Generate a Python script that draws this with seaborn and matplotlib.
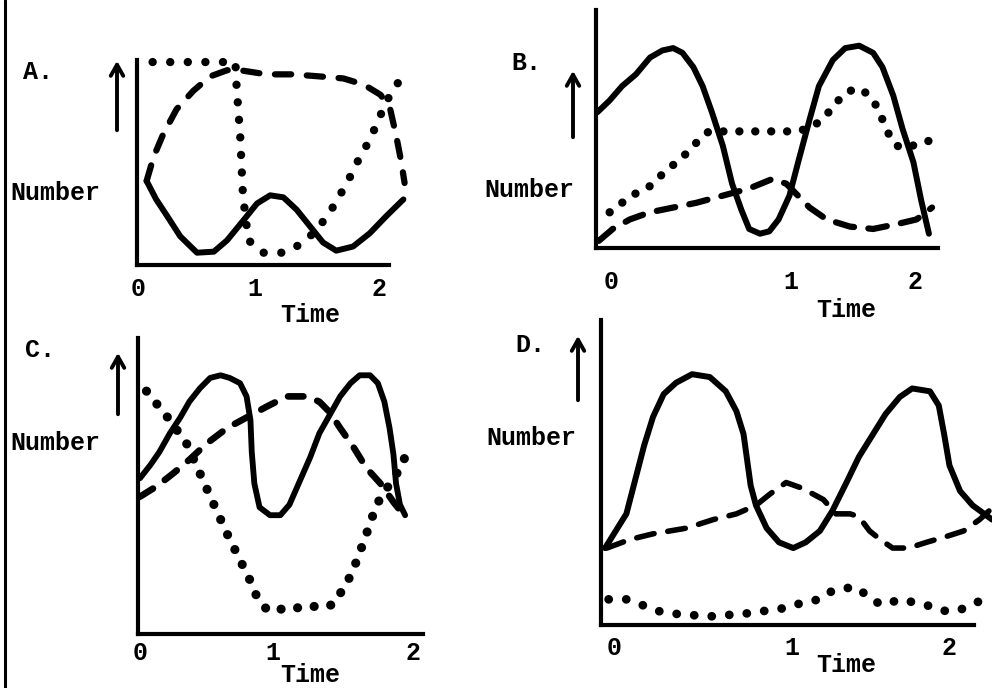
import matplotlib
matplotlib.use("Agg")
import matplotlib.pyplot as plt
import pandas as pd
import seaborn as sns
from matplotlib.lines import Line2D

# ---------------- data ----------------
tick_labels = ["0", "1", "2"]

# Panel A
a_solid_t = [0.08, 0.16, 0.25, 0.36, 0.50, 0.64, 0.75, 0.89, 1.00, 1.11, 1.22, 1.33, 1.44, 1.55, 1.66, 1.80, 1.94, 2.08, 2.22]
a_solid_y = [0.41, 0.32, 0.24, 0.14, 0.06, 0.065, 0.12, 0.22, 0.30, 0.34, 0.33, 0.27, 0.19, 0.11, 0.07, 0.09, 0.155, 0.24, 0.32]
a_dash_t = [0.08, 0.14, 0.22, 0.33, 0.47, 0.61, 0.75, 0.86, 1.08, 1.30, 1.52, 1.72, 1.89, 2.03, 2.11, 2.16, 2.20, 2.23]
a_dash_y = [0.41, 0.53, 0.64, 0.76, 0.85, 0.92, 0.95, 0.95, 0.93, 0.93, 0.92, 0.91, 0.88, 0.83, 0.76, 0.63, 0.51, 0.40]
a_dot_t = [0.13, 0.82, 0.83, 0.86, 0.88, 0.90, 0.93, 1.05, 1.22, 1.36, 1.50, 1.63, 1.75, 1.86, 1.94, 2.08, 2.23]
a_dot_y = [0.99, 0.99, 0.87, 0.63, 0.37, 0.25, 0.12, 0.06, 0.06, 0.10, 0.17, 0.28, 0.40, 0.53, 0.61, 0.80, 0.94]

# Panel B
b_solid_t = [-0.05, 0.03, 0.11, 0.20, 0.29, 0.37, 0.44, 0.50, 0.57, 0.63, 0.69, 0.76, 0.82, 0.88, 0.93, 1.00, 1.06,
             1.12, 1.19, 1.25, 1.32, 1.38, 1.47, 1.55, 1.64, 1.73, 1.79, 1.86, 1.92, 1.99, 2.04, 2.09]
b_solid_y = [0.57, 0.62, 0.68, 0.73, 0.80, 0.83, 0.84, 0.82, 0.76, 0.68, 0.57, 0.43, 0.27, 0.16, 0.08, 0.06, 0.07,
             0.12, 0.22, 0.37, 0.54, 0.68, 0.79, 0.84, 0.85, 0.82, 0.76, 0.64, 0.50, 0.36, 0.20, 0.06]
b_dot_t = [0.03, 0.11, 0.20, 0.29, 0.37, 0.46, 0.53, 0.60, 0.67, 0.80, 0.93, 1.06, 1.19, 1.32, 1.40, 1.47, 1.53,
           1.61, 1.67, 1.74, 1.79, 1.83, 1.88, 1.94, 2.03, 2.15]
b_dot_y = [0.15, 0.19, 0.23, 0.26, 0.31, 0.36, 0.40, 0.45, 0.49, 0.49, 0.49, 0.49, 0.49, 0.50, 0.54, 0.59, 0.64,
           0.67, 0.66, 0.61, 0.54, 0.48, 0.43, 0.42, 0.44, 0.46]
b_dash_t = [-0.04, 0.05, 0.16, 0.29, 0.44, 0.59, 0.76, 0.93, 1.08, 1.17, 1.23, 1.32, 1.43, 1.58, 1.73, 1.88, 2.01, 2.11]
b_dash_y = [0.03, 0.08, 0.12, 0.15, 0.17, 0.19, 0.22, 0.25, 0.29, 0.27, 0.23, 0.17, 0.12, 0.09, 0.08, 0.10, 0.12, 0.17]

# Panel C
c_solid_t = [0.00, 0.08, 0.15, 0.23, 0.31, 0.38, 0.46, 0.54, 0.62, 0.69, 0.77, 0.82, 0.85, 0.86, 0.88, 0.92, 1.00,
             1.08, 1.15, 1.23, 1.31, 1.38, 1.46, 1.54, 1.62, 1.69, 1.77, 1.83, 1.88, 1.92, 1.95, 1.97, 2.00, 2.04]
c_solid_y = [0.59, 0.64, 0.69, 0.76, 0.82, 0.88, 0.93, 0.97, 0.98, 0.97, 0.95, 0.90, 0.81, 0.69, 0.57, 0.48, 0.45,
             0.45, 0.49, 0.58, 0.67, 0.76, 0.83, 0.90, 0.95, 0.98, 0.98, 0.95, 0.88, 0.78, 0.68, 0.57, 0.49, 0.45]
c_dash_t = [0.00, 0.13, 0.26, 0.38, 0.51, 0.67, 0.82, 0.97, 1.13, 1.28, 1.38, 1.46, 1.54, 1.64, 1.74, 1.85, 1.95, 2.03]
c_dash_y = [0.52, 0.56, 0.61, 0.66, 0.72, 0.78, 0.82, 0.86, 0.90, 0.90, 0.88, 0.84, 0.78, 0.71, 0.63, 0.57, 0.50, 0.45]
c_dot_t = [0.05, 0.23, 0.36, 0.46, 0.56, 0.67, 0.77, 0.85, 0.90, 0.98, 1.23, 1.48, 1.59, 1.67, 1.75, 1.82, 1.91, 2.02, 2.06]
c_dot_y = [0.92, 0.81, 0.72, 0.61, 0.50, 0.38, 0.28, 0.20, 0.14, 0.09, 0.10, 0.11, 0.19, 0.28, 0.39, 0.49, 0.56, 0.64, 0.71]

# Panel D
d_solid_t = [0.00, 0.06, 0.12, 0.17, 0.22, 0.27, 0.33, 0.40, 0.49, 0.59, 0.68, 0.74, 0.78, 0.80, 0.82, 0.85, 0.91,
             0.98, 1.06, 1.13, 1.21, 1.28, 1.36, 1.43, 1.51, 1.58, 1.66, 1.73, 1.83, 1.88, 1.91, 1.94, 2.00, 2.07, 2.18]
d_solid_y = [0.27, 0.33, 0.39, 0.51, 0.63, 0.73, 0.81, 0.85, 0.88, 0.87, 0.82, 0.75, 0.67, 0.58, 0.49, 0.42, 0.34,
             0.29, 0.27, 0.29, 0.33, 0.40, 0.50, 0.59, 0.67, 0.74, 0.80, 0.83, 0.82, 0.77, 0.67, 0.56, 0.47, 0.42, 0.37]
d_dash_t = [0.01, 0.14, 0.27, 0.46, 0.61, 0.74, 0.85, 0.93, 1.02, 1.11, 1.23, 1.30, 1.38, 1.43, 1.49, 1.55, 1.62,
            1.71, 1.81, 1.92, 2.02, 2.11, 2.18]
d_dash_y = [0.27, 0.30, 0.32, 0.34, 0.37, 0.39, 0.42, 0.46, 0.50, 0.48, 0.44, 0.39, 0.39, 0.38, 0.33, 0.30, 0.27,
            0.27, 0.29, 0.31, 0.33, 0.37, 0.41]
d_dot_t = [0.02, 0.12, 0.21, 0.29, 0.38, 0.59, 0.79, 1.02, 1.12, 1.21, 1.28, 1.36, 1.43, 1.49, 1.57, 1.66, 1.81, 1.90, 1.99, 2.09, 2.18]
d_dot_y = [0.09, 0.09, 0.07, 0.05, 0.04, 0.03, 0.04, 0.06, 0.08, 0.09, 0.12, 0.13, 0.13, 0.09, 0.07, 0.09, 0.07, 0.05, 0.05, 0.08, 0.09]

# ---------------- style ----------------
sns.set_theme(style="white")
plt.rcParams["font.family"] = ["Liberation Mono", "DejaVu Sans Mono"]
plt.rcParams["font.weight"] = "bold"

W, H = 992, 688
fig = plt.figure(figsize=(W / 100, H / 100), dpi=100)
fig.patch.set_facecolor("white")
FS = 18


def add_ax(left, bottom_px, xlim, ylim, px_per_t, px_per_y):
    w = (xlim[1] - xlim[0]) * px_per_t
    h = (ylim[1] - ylim[0]) * px_per_y
    ax = fig.add_axes([left / W, (H - bottom_px) / H, w / W, h / H])
    ax.set_xlim(*xlim)
    ax.set_ylim(*ylim)
    ax.set_facecolor("none")
    return ax


def draw(ax, t, y, kind, lw, pattern=None):
    df = pd.DataFrame({"t": t, "y": y})
    kw = dict(color="black", linewidth=lw, clip_on=False, sort=False,
              estimator=None, ax=ax, legend=False)
    if kind == "solid":
        sns.lineplot(data=df, x="t", y="y", solid_capstyle="round",
                     solid_joinstyle="round", **kw)
    else:
        sns.lineplot(data=df, x="t", y="y", linestyle=(0, pattern),
                     dash_capstyle="round", dash_joinstyle="round", **kw)


def style_ax(ax, xbound, ticks, pad):
    for s in ["top", "right"]:
        ax.spines[s].set_visible(False)
    for s in ["left", "bottom"]:
        ax.spines[s].set_linewidth(3)
        ax.spines[s].set_color("black")
    ax.spines["bottom"].set_bounds(*xbound)
    ax.set_yticks([])
    ax.set_xticks(ticks)
    ax.set_xticklabels(tick_labels, fontsize=FS, fontweight="bold")
    ax.tick_params(axis="x", length=0, pad=pad, colors="black")
    ax.set_xlabel("")
    ax.set_ylabel("")


def fig_text(x, y, s):
    fig.text(x / W, 1 - y / H, s, ha="center", va="center", fontsize=FS,
             fontweight="bold", color="black")


def arrow(x, y0, y1):
    fig.add_artist(matplotlib.patches.FancyArrowPatch(
        (x / W, 1 - y0 / H), (x / W, 1 - y1 / H), transform=fig.transFigure,
        arrowstyle="->,head_length=8,head_width=4.5", lw=2.8, color="black",
        mutation_scale=1))


# ---------- Panel A ----------
axA = add_ax(137, 265, (0, 2.2), (0, 1.0), 120, 205)
draw(axA, a_solid_t, a_solid_y, "solid", 4.3)
draw(axA, a_dash_t, a_dash_y, "dash", 4.5, (2.6, 2.5))
draw(axA, a_dot_t, a_dot_y, "dot", 6.0, (0.01, 2.1))
style_ax(axA, (0, 2.1), [0.01, 0.98, 2.02], 9)

# ---------- Panel B ----------
axB = add_ax(596, 248, (-0.058, 2.2), (0, 1.0), 155, 238)
draw(axB, b_solid_t, b_solid_y, "solid", 4.3)
draw(axB, b_dash_t, b_dash_y, "dash", 4.5, (3.0, 2.3))
draw(axB, b_dot_t, b_dot_y, "dot", 6.0, (0.01, 1.9))
style_ax(axB, (-0.058, 2.15), [0.04, 1.2, 2.0], 16)

# ---------- Panel C ----------
axC = add_ax(138, 634, (-0.015, 2.2), (0, 1.12), 130, 264)
draw(axC, c_solid_t, c_solid_y, "solid", 4.2)
draw(axC, c_dash_t, c_dash_y, "dash", 4.8, (2.3, 2.2))
draw(axC, c_dot_t, c_dot_y, "dot", 6.6, (0.01, 1.8))
style_ax(axC, (-0.015, 2.18), [0.0, 1.02, 2.1], 5)

# ---------- Panel D ----------
axD = add_ax(601, 625, (-0.023, 2.18), (0, 1.07), 177.5, 285)
draw(axD, d_solid_t, d_solid_y, "solid", 4.3)
draw(axD, d_dash_t, d_dash_y, "dash", 4.0, (3.2, 2.5))
draw(axD, d_dot_t, d_dot_y, "dot", 6.3, (0.01, 2.0))
style_ax(axD, (-0.023, 2.08), [0.05, 1.05, 1.94], 8)

# ---------- labels ----------
fig_text(38, 72, "A.")
fig_text(526, 63, "B.")
fig_text(40, 350, "C.")
fig_text(530, 345, "D.")
for (x, y) in [(55, 193), (529, 190), (55, 443), (531, 438)]:
    fig_text(x, y, "Number")
for (x, y) in [(310, 315), (846, 310), (310, 675), (846, 665)]:
    fig_text(x, y, "Time")
arrow(117, 133, 58)
arrow(573, 140, 68)
arrow(118, 417, 350)
arrow(578, 403, 333)

# page border line at far left
fig.add_artist(Line2D([5 / W, 5 / W], [0, 1], transform=fig.transFigure,
                      color="black", lw=2.2))

fig.savefig("out.png", dpi=100, facecolor="white")
